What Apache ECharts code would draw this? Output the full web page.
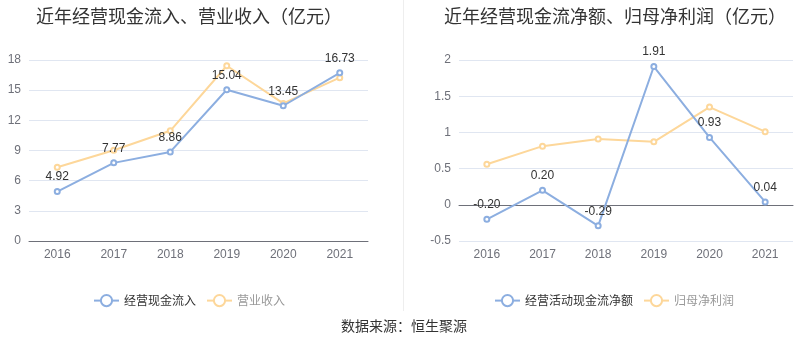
<!DOCTYPE html>
<html><head><meta charset="utf-8">
<script src="https://cdn.jsdelivr.net/npm/echarts@6/dist/echarts.min.js"></script>
<style>html,body{margin:0;padding:0;background:#fff}#c{width:800px;height:358px}</style>
</head><body><div id="c"></div>
<script>
const years = ['2016','2017','2018','2019','2020','2021'];
const cashInflow = [4.92, 7.77, 8.86, 15.04, 13.45, 16.73];
const revenue = [7.34, 9.03, 10.96, 17.43, 13.68, 16.24];
const netCashFlow = [-0.20, 0.20, -0.29, 1.91, 0.93, 0.04];
const netProfit = [0.56, 0.81, 0.91, 0.87, 1.35, 1.01];
const leftTicks = {min: 0, max: 18, interval: 3};
const rightTicks = {min: -0.5, max: 2, interval: 0.5};

const BLUE = '#8caee0', YELLOW = '#fdd79a';
const FONT = '"Noto Sans CJK SC", "Liberation Sans", sans-serif';
const chart = echarts.init(document.getElementById('c'));
const axisLabel = {color: '#6e7079', fontSize: 12, fontFamily: '"Liberation Sans", sans-serif'};
const splitLine = {lineStyle: {color: '#e0e6f1'}};
function labelCfg(show){ return {show: show, position: 'top', color: '#333', fontSize: 12, fontFamily: '"Liberation Sans", sans-serif', formatter: p => p.value.toFixed(2)}; }
function lineSeries(name, data, color, xi, yi, showLabel){
  return {name, type: 'line', data, xAxisIndex: xi, yAxisIndex: yi,
    symbol: 'emptyCircle', symbolSize: 5, lineStyle: {width: 2, color}, itemStyle: {color, borderWidth: 1.5},
    label: labelCfg(showLabel), z: showLabel ? 3 : 2};
}
chart.setOption({
  animation: false,
  textStyle: {fontFamily: FONT},
  title: [
    {text: '近年经营现金流入、营业收入（亿元）', left: 184, textAlign: 'center', top: 2, textStyle: {fontSize: 18, fontWeight: 'normal', color: '#333', fontFamily: FONT}},
    {text: '近年经营现金流净额、归母净利润（亿元）', left: 610, textAlign: 'center', top: 2, textStyle: {fontSize: 18, fontWeight: 'normal', color: '#333', fontFamily: FONT}},
    {text: '数据来源：恒生聚源', left: 399, textAlign: 'center', top: 314, textStyle: {fontSize: 14, fontWeight: 'normal', color: '#333', fontFamily: FONT}}
  ],
  legend: [
    {data: [{name: '经营现金流入', textStyle: {color: '#333'}}, {name: '营业收入', textStyle: {color: '#999'}}], left: 88, top: 289, itemWidth: 25, itemHeight: 14, itemGap: 10, textStyle: {fontSize: 12, fontFamily: FONT}},
    {data: [{name: '经营活动现金流净额', textStyle: {color: '#333'}}, {name: '归母净利润', textStyle: {color: '#999'}}], left: 489, top: 289, itemWidth: 25, itemHeight: 14, itemGap: 10, textStyle: {fontSize: 12, fontFamily: FONT}}
  ],
  graphic: [{type: 'line', shape: {x1: 403.5, y1: 0, x2: 403.5, y2: 311}, style: {stroke: '#eeeeee', lineWidth: 1}}],
  grid: [
    {left: 29, right: 432, top: 60, bottom: 117},
    {left: 459, right: 7, top: 60, bottom: 117}
  ],
  xAxis: [
    {gridIndex: 0, type: 'category', data: years, boundaryGap: true,
      axisLine: {lineStyle: {color: '#6e7079'}}, axisTick: {alignWithLabel: true, length: 5}, axisLabel},
    {gridIndex: 1, type: 'category', data: years, boundaryGap: true, position: 'bottom',
      axisLine: {show: false, onZero: false}, axisTick: {show: false}, axisLabel},
    {gridIndex: 1, type: 'category', data: years, boundaryGap: true, position: 'bottom',
      axisLine: {onZero: true, lineStyle: {color: '#6e7079'}}, axisTick: {alignWithLabel: true, length: 5}, axisLabel: {show: false}}
  ],
  yAxis: [
    {gridIndex: 0, type: 'value', min: leftTicks.min, max: leftTicks.max, interval: leftTicks.interval, axisLabel, splitLine, axisLine: {show: false}, axisTick: {show: false}},
    {gridIndex: 1, type: 'value', min: rightTicks.min, max: rightTicks.max, interval: rightTicks.interval, axisLabel, splitLine, axisLine: {show: false}, axisTick: {show: false}}
  ],
  series: [
    lineSeries('营业收入', revenue, YELLOW, 0, 0, false),
    lineSeries('经营现金流入', cashInflow, BLUE, 0, 0, true),
    lineSeries('归母净利润', netProfit, YELLOW, 1, 1, false),
    lineSeries('经营活动现金流净额', netCashFlow, BLUE, 1, 1, true)
  ]
});
</script></body></html>
